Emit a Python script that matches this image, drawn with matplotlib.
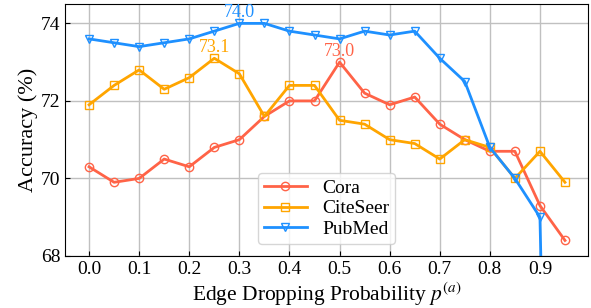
import matplotlib
matplotlib.use('Agg')
import matplotlib.pyplot as plt
import numpy as np

plt.rcParams['font.family'] = 'Liberation Serif'
plt.rcParams['mathtext.fontset'] = 'stix'

p = [0.0, 0.05, 0.1, 0.15, 0.2, 0.25, 0.3, 0.35, 0.4, 0.45,
     0.5, 0.55, 0.6, 0.65, 0.7, 0.75, 0.8, 0.85, 0.9, 0.95]
cora = [70.3, 69.9, 70.0, 70.5, 70.3, 70.8, 71.0, 71.6, 72.0, 72.0,
        73.0, 72.2, 71.9, 72.1, 71.4, 71.0, 70.7, 70.7, 69.3, 68.4]
citeseer = [71.9, 72.4, 72.8, 72.3, 72.6, 73.1, 72.7, 71.6, 72.4, 72.4,
            71.5, 71.4, 71.0, 70.9, 70.5, 71.0, 70.8, 70.0, 70.7, 69.9]
pubmed = [73.6, 73.5, 73.4, 73.5, 73.6, 73.8, 74.0, 74.0, 73.8, 73.7,
          73.6, 73.8, 73.7, 73.8, 73.1, 72.5, 70.8, 70.0, 69.0, 40.0]
xticks = [0.0, 0.1, 0.2, 0.3, 0.4, 0.5, 0.6, 0.7, 0.8, 0.9]
yticks = [68, 70, 72, 74]

fig = plt.figure(figsize=(5.91, 3.08), dpi=100)
ax = fig.add_axes([0.11, 0.169, 0.885, 0.818])

series = [('Cora', cora, 'tomato', 'o'),
          ('CiteSeer', citeseer, 'orange', 's'),
          ('PubMed', pubmed, 'dodgerblue', 'v')]
for name, vals, c, m in series:
    ax.plot(p, vals, color=c, marker=m, markerfacecolor='none',
            markersize=6, linewidth=2, label=name)
    i = int(np.argmax(vals))
    ax.annotate('%.1f' % vals[i], (p[i], vals[i]), xytext=(0, 1.5),
                textcoords='offset points', ha='center', va='bottom',
                color=c, fontsize=13)

ax.set_xlim(-0.048, 0.996)
ax.set_ylim(68, 74.5)
ax.set_xticks(xticks)
ax.set_yticks(yticks)
ax.tick_params(direction='in', labelsize=14)
ax.grid(True, color='#c0c0c0', linewidth=1)
ax.set_xlabel('Edge Dropping Probability $p^{(a)}$', fontsize=15.5, labelpad=2)
ax.set_ylabel('Accuracy (%)', fontsize=16, labelpad=2)
ax.legend(loc='lower center', bbox_to_anchor=(0.5, 0.01), fontsize=14,
          handlelength=2.2, borderpad=0.3, labelspacing=0.15)

fig.savefig('out.png', dpi=100)
